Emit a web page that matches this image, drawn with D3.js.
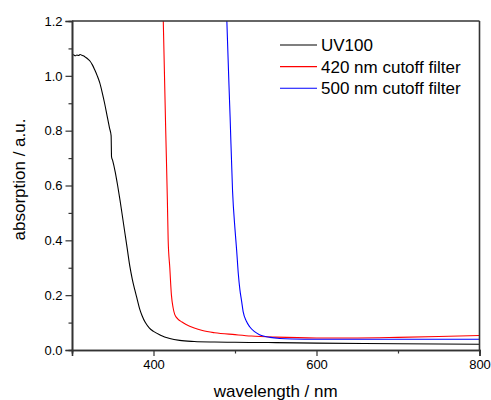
<!DOCTYPE html>
<html>
<head>
<meta charset="utf-8">
<script src="https://cdn.jsdelivr.net/npm/d3@7"></script>
<style>
    body { margin: 0; background: #fff; }
    text { font-family: "Liberation Sans", Arial, sans-serif; fill: #000; }
</style>
</head>
<body>
<div id="content"></div>
<script>
// UV100 (black)
const uvWavelength = [300, 302, 304, 306, 308, 310, 312, 314, 316, 318, 320, 322, 325, 328, 331, 334, 337, 340, 343, 346, 348, 348.5, 350, 353, 356, 359, 362, 365, 368, 371, 374, 377, 380, 383, 386, 390, 395, 400, 408, 420, 432, 450, 475, 500, 550, 600, 700, 800];
const uvAbsorption = [1.074, 1.077, 1.073, 1.076, 1.074, 1.078, 1.075, 1.073, 1.069, 1.065, 1.060, 1.054, 1.040, 1.021, 1.000, 0.975, 0.940, 0.900, 0.855, 0.810, 0.782, 0.705, 0.690, 0.650, 0.600, 0.545, 0.485, 0.425, 0.365, 0.305, 0.258, 0.220, 0.185, 0.150, 0.125, 0.100, 0.080, 0.068, 0.055, 0.042, 0.035, 0.031, 0.029, 0.028, 0.027, 0.025, 0.023, 0.021];

// 420 nm cutoff filter (red)
const f420Wavelength = [408, 412, 415, 417, 418, 420, 422, 424, 426, 430, 435, 440, 450, 460, 475, 500, 520, 550, 600, 650, 700, 750, 800];
const f420Absorption = [1.70, 1.20, 0.80, 0.55, 0.40, 0.30, 0.20, 0.155, 0.130, 0.113, 0.102, 0.093, 0.080, 0.071, 0.063, 0.056, 0.051, 0.047, 0.044, 0.044, 0.046, 0.049, 0.053];

// 500 nm cutoff filter (blue)
const f500Wavelength = [486, 490, 494, 497, 500, 502, 504, 506, 508, 510, 514, 518, 524, 530, 536, 543, 555, 570, 600, 700, 800];
const f500Absorption = [1.70, 1.20, 0.85, 0.58, 0.44, 0.365, 0.28, 0.22, 0.18, 0.14, 0.105, 0.085, 0.067, 0.056, 0.050, 0.046, 0.042, 0.040, 0.039, 0.039, 0.039];

const seriesNames = ["UV100", "420 nm cutoff filter", "500 nm cutoff filter"];
const seriesColors = ["#000000", "#ff0000", "#0000ff"];

const xTicks = [400, 600, 800];
const xMinorTicks = [300, 500, 700];
const yTicks = [0.0, 0.2, 0.4, 0.6, 0.8, 1.0, 1.2];
const yMinorTicks = [0.1, 0.3, 0.5, 0.7, 0.9, 1.1];

const margin = {top: 21, right: 11.5, bottom: 50, left: 72},
    width = 491 - margin.left - margin.right,
    height = 400 - margin.top - margin.bottom;

const svg = d3.select("#content")
    .append("svg")
    .attr("width", 491)
    .attr("height", 400)
    .append("g")
    .attr("transform", "translate(" + margin.left + "," + margin.top + ")");

let x = d3.scaleLinear().domain([300, 800]).range([0, width]);
let y = d3.scaleLinear().domain([0, 1.2]).range([height, 0]);

svg.append("clipPath")
    .attr("id", "plot-clip")
    .append("rect")
    .attr("width", width)
    .attr("height", height);

const line = d3.line()
    .curve(d3.curveMonotoneX)
    .x(d => x(d[0]))
    .y(d => y(d[1]));

const series = [
    d3.zip(uvWavelength, uvAbsorption),
    d3.zip(f420Wavelength, f420Absorption),
    d3.zip(f500Wavelength, f500Absorption)
];

svg.append("g")
    .attr("clip-path", "url(#plot-clip)")
    .selectAll("path")
    .data(series)
    .join("path")
    .attr("fill", "none")
    .attr("stroke", (d, i) => seriesColors[i])
    .attr("stroke-width", 1.1)
    .attr("d", line);

// axes
const axisColor = "#333";

svg.append("g")
    .attr("transform", "translate(0," + height + ")")
    .call(d3.axisBottom(x).tickValues(xTicks).tickSize(6).tickPadding(4).tickFormat(d3.format("d")));
svg.append("g")
    .attr("transform", "translate(0," + height + ")")
    .call(d3.axisBottom(x).tickValues(xMinorTicks).tickSize(3.5).tickFormat(""));

svg.append("g")
    .call(d3.axisLeft(y).tickValues(yTicks).tickSize(6.5).tickPadding(3).tickFormat(d3.format(".1f")));
svg.append("g")
    .call(d3.axisLeft(y).tickValues(yMinorTicks).tickSize(3.5).tickFormat(""));

svg.selectAll(".domain").attr("stroke", axisColor).attr("stroke-width", 1.6);
svg.selectAll(".tick line").attr("stroke", axisColor).attr("stroke-width", 1.2);
svg.selectAll(".tick text")
    .style("font-family", "'Liberation Sans', Arial, sans-serif")
    .style("font-size", "13px")
    .attr("fill", "#000");

// frame top & right
svg.append("line")
    .attr("x1", 0).attr("x2", width).attr("y1", 0).attr("y2", 0)
    .attr("stroke", axisColor).attr("stroke-width", 1.6);
svg.append("line")
    .attr("x1", width).attr("x2", width).attr("y1", 0).attr("y2", height)
    .attr("stroke", axisColor).attr("stroke-width", 1.6);

// axis titles
svg.append("text")
    .attr("x", width / 2)
    .attr("y", height + 47)
    .attr("text-anchor", "middle")
    .style("font-size", "17px")
    .text("wavelength / nm");

svg.append("text")
    .attr("transform", "translate(" + (-47) + "," + (height / 2 - 6) + ") rotate(-90)")
    .attr("text-anchor", "middle")
    .style("font-size", "17px")
    .text("absorption / a.u.");

// legend
let legend = svg.append("g")
    .attr("transform", "translate(" + (280 - margin.left) + "," + (45 - margin.top) + ")");

legend.selectAll("g")
    .data(seriesNames)
    .join("g")
    .attr("transform", (d, i) => "translate(0," + (i * 21.6) + ")")
    .each(function(d, i) {
        let g = d3.select(this);
        g.append("line")
            .attr("x1", 0).attr("x2", 37)
            .attr("stroke", seriesColors[i])
            .attr("stroke-width", 1.1);
        g.append("text")
            .attr("x", 41)
            .attr("dy", "0.35em")
            .style("font-size", "17px")
            .text(d);
    });
</script>
</body>
</html>
